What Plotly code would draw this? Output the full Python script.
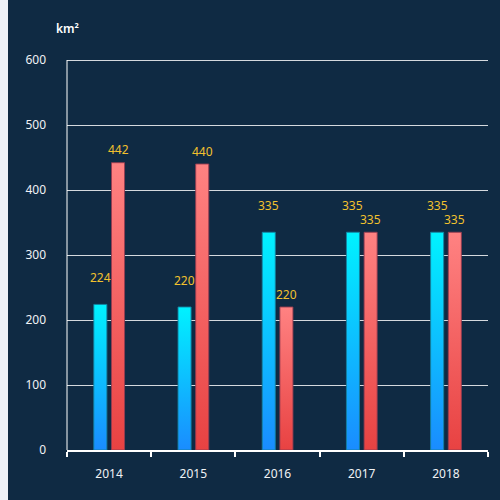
import plotly.graph_objects as go

# =========================================================
# DATA
# =========================================================

years = ["2014", "2015", "2016", "2017", "2018"]
area_a = [224, 220, 335, 335, 335]
area_b = [442, 440, 220, 335, 335]
y_ticks = [0, 100, 200, 300, 400, 500, 600]
unit_label = "km²"

# =========================================================
# STYLE
# =========================================================

navy = "#0f2a43"
strip = "#eef1f7"
label_gold = "#f2c12e"
tick_font = dict(family="Noto Sans, DejaVu Sans, sans-serif", size=12, color="#f0f2f5")

bar_width = 0.155
series = [
    dict(values=area_a, offset=-0.104, top="#00f2ff", bottom="#1a8cff",
         border="rgba(20,130,160,0.9)", shift=27),
    dict(values=area_b, offset=0.106, top="#ff8282", bottom="#e84242",
         border="rgba(150,60,80,0.9)", shift=13),
]

# plot area in pixels (500x500 canvas); top margin trimmed by 2px so the
# top gridline is not dropped at the edge of the plot area
L, R, T, B = 67, 12, 58, 50
plot_w = 500 - L - R
plot_h = 500 - T - B
y_top = max(y_ticks) * plot_h / (plot_h - 2)

fig = go.Figure()

# bars drawn as filled polygons so each gets its own vertical gradient
for s in series:
    for i, v in enumerate(s["values"]):
        x0 = i + s["offset"] - bar_width / 2
        x1 = i + s["offset"] + bar_width / 2
        fig.add_trace(
            go.Scatter(
                x=[x0, x1, x1, x0, x0],
                y=[0, 0, v, v, 0],
                mode="lines",
                fill="toself",
                fillgradient=dict(
                    type="vertical",
                    colorscale=[[0, s["bottom"]], [1, s["top"]]],
                ),
                line=dict(color=s["border"], width=1),
                hoverinfo="skip",
                showlegend=False,
            )
        )
        fig.add_annotation(
            x=i + s["offset"],
            y=v,
            xref="x",
            yref="y",
            text=str(v),
            showarrow=False,
            yshift=s["shift"],
            yanchor="middle",
            font=dict(family="Noto Sans, DejaVu Sans, sans-serif", size=12, color=label_gold),
        )

# category axis only used for the year labels and boundary ticks
fig.add_trace(
    go.Scatter(x=years, y=[None] * len(years), xaxis="x2", showlegend=False, hoverinfo="skip")
)

fig.add_annotation(
    x=0,
    y=(plot_h + T - 28) / plot_h,
    xref="paper",
    yref="paper",
    text=unit_label,
    showarrow=False,
    xanchor="center",
    yanchor="middle",
    font=dict(family="Noto Sans, DejaVu Sans, sans-serif", size=12, color="#ffffff", weight=600),
)

# light strip along the left edge
fig.add_shape(
    type="rect",
    xref="paper",
    yref="paper",
    x0=(0 - L) / plot_w,
    x1=(8 - L) / plot_w,
    y0=-B / plot_h - 0.05,
    y1=(plot_h + T) / plot_h + 0.05,
    fillcolor=strip,
    line=dict(width=0),
    layer="below",
)

fig.update_layout(
    width=500,
    height=500,
    margin=dict(l=L, r=R, t=T, b=B),
    paper_bgcolor=navy,
    plot_bgcolor=navy,
    showlegend=False,
    xaxis=dict(
        range=[-0.5, 4.5],
        showgrid=False,
        zeroline=False,
        showline=False,
        showticklabels=False,
        ticks="",
    ),
    xaxis2=dict(
        type="category",
        categoryarray=years,
        categoryorder="array",
        range=[-0.5, 4.5],
        overlaying="x",
        anchor="y",
        side="bottom",
        tickson="boundaries",
        ticks="outside",
        ticklen=5,
        tickwidth=1.5,
        tickcolor="#ffffff",
        showline=True,
        linecolor="#ffffff",
        linewidth=2,
        showgrid=False,
        zeroline=False,
        tickfont=tick_font,
        ticklabelstandoff=12,
    ),
    yaxis=dict(
        range=[0, y_top],
        tickvals=y_ticks,
        showgrid=True,
        gridcolor="#d5d9de",
        gridwidth=1,
        zeroline=False,
        showline=False,
        ticks="",
        tickfont=tick_font,
        ticklabelstandoff=20,
    ),
)

# white y axis line from 0 up to the top tick only
fig.add_shape(
    type="line",
    xref="paper",
    yref="y",
    x0=0,
    x1=0,
    y0=0,
    y1=max(y_ticks),
    line=dict(color="#ffffff", width=1),
)

fig.write_html(
    "out.html",
    config={"displayModeBar": False},
    post_script="document.body.style.margin='0';document.body.style.overflow='hidden';",
)
